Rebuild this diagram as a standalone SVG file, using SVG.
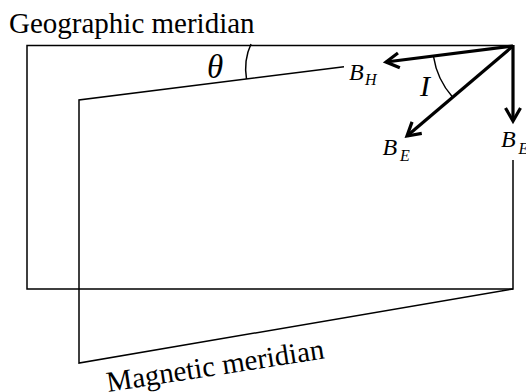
<svg xmlns="http://www.w3.org/2000/svg" width="526" height="392" viewBox="0 0 526 392">
<style>
.thin{fill:none;stroke:#000;stroke-width:1.5}
.vec{fill:none;stroke:#000;stroke-width:3.2}
.lbl{font-family:"Liberation Serif","Times New Roman",serif;fill:#000}
.it{font-style:italic}
</style>
<defs>
<marker id="ah" markerUnits="userSpaceOnUse" markerWidth="30" markerHeight="30" refX="0" refY="0" viewBox="-20 -15 30 30" orient="auto" overflow="visible">
<path d="M-13,-7.5 L0,0 L-13,7.5" fill="none" stroke="#000" stroke-width="3.2" stroke-linejoin="miter"/>
</marker>
</defs>
<rect width="526" height="392" fill="#fff"/>
<g id="geographic-meridian">
<path class="thin" d="M513,160 V289 H27 V45.5 H513"/>
<text class="lbl" x="9" y="33" font-size="29">Geographic meridian</text>
</g>
<g id="magnetic-meridian">
<path class="thin" d="M344,66.7 L79,100 V363 L513,289"/>
<text class="lbl" x="108" y="392" font-size="29" transform="rotate(-8.8 108 392)">Magnetic meridian</text>
</g>
<g id="theta">
<path class="thin" d="M251,44 Q243.5,60 246.5,79"/>
<text class="lbl it" x="207" y="78" font-size="33">θ</text>
</g>
<g id="inclination">
<path class="thin" d="M433.5,56.5 A80,80 0 0 0 452.5,97"/>
<text class="lbl it" x="420" y="96" font-size="30">I</text>
</g>
<g id="connectors">
<line class="vec" x1="513" y1="46" x2="386" y2="62" marker-end="url(#ah)"/>
<line class="vec" x1="513" y1="46" x2="407" y2="136" marker-end="url(#ah)"/>
<line class="vec" x1="513" y1="45" x2="513" y2="121" marker-end="url(#ah)"/>
</g>
<g id="BH">
<text class="lbl it" x="349" y="79.5" font-size="24">B<tspan font-size="16" x="365" y="84.5">H</tspan></text>
</g>
<g id="BE-total">
<text class="lbl it" x="382.5" y="154.5" font-size="24">B<tspan font-size="16" x="400" y="161">E</tspan></text>
</g>
<g id="BE-vertical">
<text class="lbl it" x="501" y="147" font-size="24">B<tspan font-size="16" x="518.5" y="154">E</tspan></text>
</g>
</svg>
